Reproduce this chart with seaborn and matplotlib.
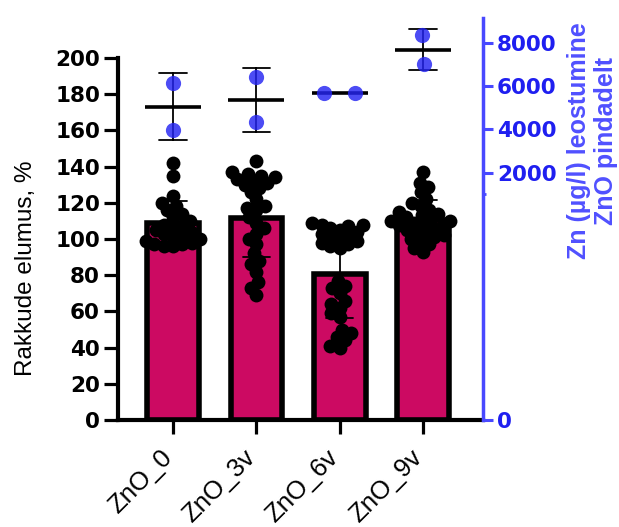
import matplotlib
matplotlib.use("Agg")
import matplotlib.pyplot as plt
import matplotlib.transforms as mtransforms
import numpy as np
import pandas as pd
import seaborn as sns

# Grupid
groups = ["ZnO_0", "ZnO_3v", "ZnO_6v", "ZnO_9v"]

# Rakkude elumus (%) iga korduse kohta (loetud jooniselt)
elumus_0 = [142, 135, 124, 120, 118, 116, 114, 112, 110, 108, 107, 106, 105,
            104, 103, 102, 101, 100, 99, 98, 97, 97, 96, 96]
elumus_3v = [143, 137, 136, 135, 134, 133, 132, 131, 130, 128, 126, 122, 118, 117,
             116, 112, 109, 106, 103, 100, 97, 92, 88, 86, 82, 76, 73, 69]
elumus_6v = [109, 108, 108, 107, 106, 105, 104, 103, 102, 101, 100, 99, 98, 97, 96, 95,
             77, 74, 73, 70, 66, 64, 62, 59, 57, 50, 48, 46, 44, 41, 40]
elumus_9v = [137, 131, 129, 126, 122, 120, 118, 116, 115, 114, 113, 112, 111, 110, 110,
             109, 108, 108, 107, 106, 105, 104, 103, 102, 101, 100, 99, 97, 95, 93]

# Zn leostumine ZnO pindadelt (µg/l), kaks kordust
zn_0 = [6140, 3950]
zn_3v = [6420, 4330]
zn_6v = [5670, 5670]
zn_9v = [8370, 7020]

left_ticks = [0, 20, 40, 60, 80, 100, 120, 140, 160, 180, 200]
right_ticks = [0, 2000, 4000, 6000, 8000]

bar_color = "#CC0A62"
blue = "#2525F2"
blue_axis = "#4848FF"

df_cells = pd.DataFrame({
    "grupp": sum([[g] * len(v) for g, v in zip(groups, [elumus_0, elumus_3v, elumus_6v, elumus_9v])], []),
    "elumus": elumus_0 + elumus_3v + elumus_6v + elumus_9v,
})
df_zn = pd.DataFrame({
    "grupp": sum([[g] * len(v) for g, v in zip(groups, [zn_0, zn_3v, zn_6v, zn_9v])], []),
    "zn": zn_0 + zn_3v + zn_6v + zn_9v,
})

# Katkestusega parem telg: 0..1000 venitatud, edasi kokku surutud
BREAK = 1000
def fwd(v):
    v = np.asarray(v, dtype=float)
    return np.where(v <= BREAK, v / BREAK * 225, 225 + (v - BREAK) / BREAK * 21.5)

def inv(u):
    u = np.asarray(u, dtype=float)
    return np.where(u <= 225, u / 225 * BREAK, BREAK + (u - 225) / 21.5 * BREAK)

sns.set_style("ticks")
plt.rcParams["font.family"] = ["Liberation Sans", "DejaVu Sans"]
for k in ["text.color", "axes.labelcolor", "xtick.color", "ytick.color", "axes.edgecolor"]:
    plt.rcParams[k] = "black"

fig = plt.figure(figsize=(6.19, 5.27), dpi=100)
ax1 = fig.add_axes([118 / 619, 107 / 527, 365 / 619, 402 / 527])
ax2 = ax1.twinx()

# Tulbad + SD
sns.barplot(data=df_cells, x="grupp", y="elumus", order=groups, ax=ax1,
            width=0.62, color=bar_color, saturation=1, edgecolor="black", linewidth=4,
            errorbar="sd", capsize=0.33, err_kws={"color": "black", "linewidth": 1.3})
n0 = len(ax1.collections)
sns.swarmplot(data=df_cells, x="grupp", y="elumus", order=groups, ax=ax1,
              color="black", size=6.5, zorder=3)
black_dots = ax1.collections[n0:]

# Zn keskmine + SD parempoolsel teljel
sns.pointplot(data=df_zn, x="grupp", y="zn", order=groups, ax=ax2,
              errorbar="sd", color="black", marker="_", markersize=40,
              markeredgewidth=2.6, linestyle="none", capsize=0.33,
              err_kws={"linewidth": 1.3})
n0 = len(ax2.collections)
sns.swarmplot(data=df_zn, x="grupp", y="zn", order=groups, ax=ax2,
              color=blue, alpha=0.82, size=21, zorder=3)
blue_dots = ax2.collections[n0:]

ax2.set_yscale("function", functions=(fwd, inv))
ax2.set_ylim(0, 9163)
ax1.set_ylim(0, 222.1)
ax1.set_xlim(-0.66, 3.72)

# Vasak telg
tick_font = {"family": "DejaVu Sans", "weight": "bold", "size": 15.5}
ax1.set_yticks(left_ticks)
ax1.set_yticklabels([str(v) for v in left_ticks], fontdict=tick_font)
ax1.spines["left"].set_bounds(0, 200)
ax1.spines["top"].set_visible(False)
ax1.spines["right"].set_visible(False)
for s in ["left", "bottom"]:
    ax1.spines[s].set_linewidth(3)
ax1.tick_params(axis="y", length=10, width=2.3, pad=3)
ax1.tick_params(axis="x", length=10, width=2.3, pad=9)
ax1.set_xticks(range(len(groups)))
ax1.set_xticklabels(groups, rotation=45, ha="right", va="center",
                    rotation_mode="anchor", fontsize=18.5)
shift = mtransforms.ScaledTranslation(-5 / 100, -7 / 100, fig.dpi_scale_trans)
for t in ax1.get_xticklabels():
    t.set_transform(t.get_transform() + shift)
ax1.set_xlabel("")
ax1.set_ylabel("")
ax1.text(-0.252, 0.378, "Rakkude elumus, %", transform=ax1.transAxes,
         rotation=90, ha="center", va="center", fontsize=17.5)

# Parem telg
for s in ["left", "top", "bottom"]:
    ax2.spines[s].set_visible(False)
ax2.spines["right"].set_color(blue_axis)
ax2.spines["right"].set_linewidth(2.5)
ax2.set_yticks(right_ticks)
ax2.set_yticklabels([str(v) for v in right_ticks], fontdict=tick_font)
ax2.set_yticks([BREAK], minor=True)
ax2.tick_params(axis="y", which="major", colors=blue_axis, length=7, width=2.2,
                pad=3, labelcolor="#1F1FF0")
ax2.tick_params(axis="y", which="minor", colors=blue_axis, length=2, width=2)
ax2.set_ylabel("")
ax2.set_xlabel("")
ax2.text(1.30, 0.695, "Zn (µg/l) leostumine\nZnO pindadelt", transform=ax2.transAxes,
         rotation=90, ha="center", va="center", color="#5050FF", fontsize=18,
         fontweight="bold", linespacing=1.12)

# Parvede paigutus, siis punktid suuremaks ja sinised parved keskele
fig.canvas.draw()
for c in black_dots:
    if "draw" in vars(c):
        del c.draw
    c.set_sizes([100])
for c in blue_dots:
    if "draw" in vars(c):
        del c.draw
    off = c.get_offsets().copy()
    if len(off):
        center = np.round(off[:, 0].mean())
        off[:, 0] = off[:, 0] - off[:, 0].mean() + center
        c.set_offsets(off)
    c.set_sizes([120])

fig.savefig("out.png", dpi=100)
